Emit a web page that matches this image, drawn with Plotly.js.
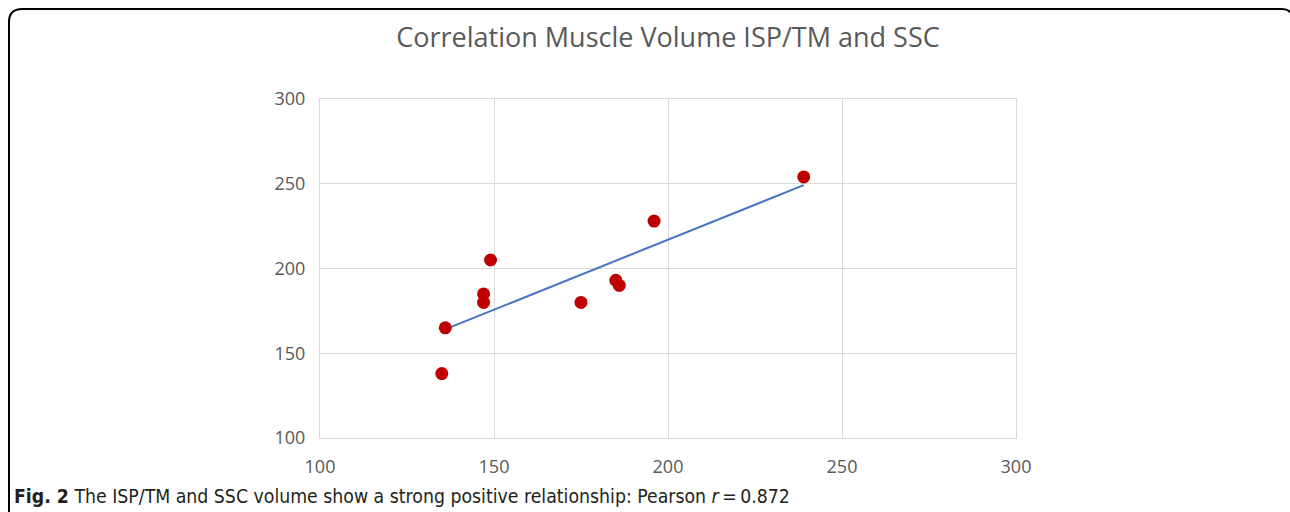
<!DOCTYPE html>
<html>
<head>
<meta charset="utf-8">
<script src="https://cdn.plot.ly/plotly-3.0.1.min.js"></script>
<style>html,body{margin:0;padding:0;background:#fff;}#chart{width:1290px;height:512px;}</style>
</head>
<body>
<div id="chart"></div>
<script>
// Data
const ispTmVolume = [135, 136, 147, 147, 149, 175, 185, 186, 196, 239];
const sscVolume   = [138, 165, 180, 185, 205, 180, 193, 190, 228, 254];
const xTicks = [100, 150, 200, 250, 300];
const yTicks = [100, 150, 200, 250, 300];
const chartTitle = 'Correlation Muscle Volume ISP/TM and SSC';
const caption = '<b>Fig. 2</b> The ISP/TM and SSC volume show a strong positive relationship: Pearson <i>r</i>\u2009=\u20090.872';

// Least-squares trendline (as Excel's linear trendline)
const n = ispTmVolume.length;
const mx = ispTmVolume.reduce((a,b)=>a+b,0)/n;
const my = sscVolume.reduce((a,b)=>a+b,0)/n;
let sxy = 0, sxx = 0;
for (let i=0;i<n;i++){ sxy += (ispTmVolume[i]-mx)*(sscVolume[i]-my); sxx += (ispTmVolume[i]-mx)**2; }
const slope = sxy/sxx, icpt = my - slope*mx;
const tx = [Math.min(...ispTmVolume), Math.max(...ispTmVolume)];
const ty = tx.map(v => icpt + slope*v);

// layout geometry
const W = 1290, H = 512, L = 320, R = 1016, T = 99, B = 438;
const PX = p => (p - L)/(R - L);
const PY = p => (B - p)/(B - T);

const traces = [
  {x: tx, y: ty, mode: 'lines', line: {color: '#4472C4', width: 2}, hoverinfo: 'skip', showlegend: false},
  {x: ispTmVolume, y: sscVolume, mode: 'markers', marker: {color: '#C00000', size: 13}, showlegend: false}
];

const axisCommon = {
  showgrid: true, gridcolor: '#d9d9d9', gridwidth: 1,
  showline: true, linecolor: '#d9d9d9', linewidth: 1, mirror: true,
  zeroline: false, ticks: '',
  tickfont: {family: 'Open Sans, sans-serif', size: 18, color: '#595959'},
  tickmode: 'array', fixedrange: true
};

const layout = {
  width: W, height: H,
  margin: {l: L, r: W - R, t: T, b: H - B, pad: 0},
  paper_bgcolor: '#ffffff', plot_bgcolor: '#ffffff',
  title: {text: chartTitle, x: 0.5, xref: 'paper', xanchor: 'center', y: 1 - 38/H, yref: 'container', yanchor: 'middle',
          font: {family: 'Open Sans, sans-serif', size: 27, color: '#595959'}},
  xaxis: Object.assign({}, axisCommon, {range: [100, 300], tickvals: xTicks, ticktext: xTicks.map(String), ticklabelstandoff: 12}),
  yaxis: Object.assign({}, axisCommon, {range: [100, 300], tickvals: yTicks, ticktext: yTicks.map(String), ticklabelstandoff: 10}),
  shapes: [{
    type: 'path', xref: 'paper', yref: 'paper', layer: 'above',
    path: `M ${PX(9)},${PY(514)} L ${PX(9)},${PY(22)} Q ${PX(9)},${PY(9)} ${PX(22)},${PY(9)} L ${PX(1282)},${PY(9)} Q ${PX(1288)},${PY(9)} ${PX(1291)},${PY(13)}`,
    line: {color: '#000000', width: 2}
  }],
  annotations: [{
    text: caption, xref: 'paper', yref: 'paper', x: PX(12), y: PY(496), xanchor: 'left', yanchor: 'middle',
    showarrow: false, font: {family: 'DejaVu Sans Condensed, Liberation Sans Narrow, Roboto Condensed, sans-serif', size: 19.3, color: '#231f20'}
  }],
  hovermode: false
};

Plotly.newPlot('chart', traces, layout, {displayModeBar: false, staticPlot: true});
</script>
</body>
</html>
